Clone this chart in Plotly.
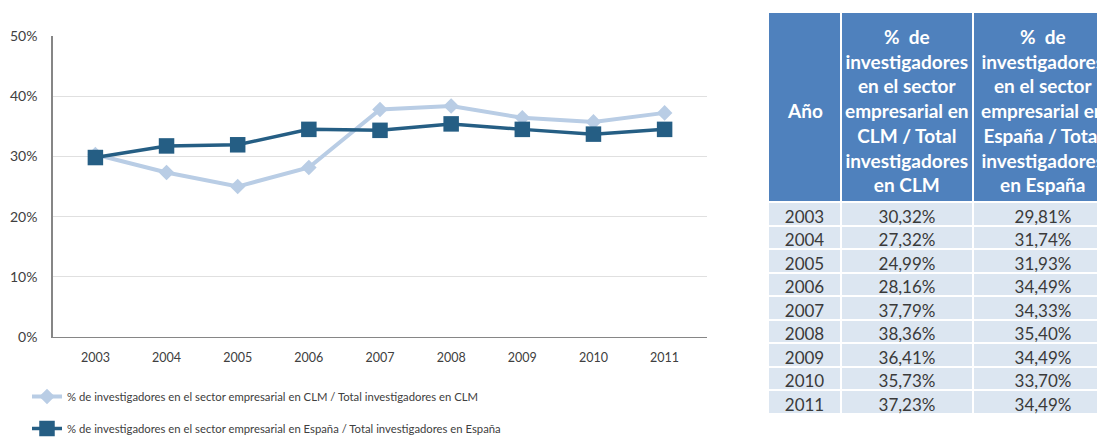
import plotly.graph_objects as go

years = ["2003", "2004", "2005", "2006", "2007", "2008", "2009", "2010", "2011"]
clm = [30.32, 27.32, 24.99, 28.16, 37.79, 38.36, 36.41, 35.73, 37.23]
esp = [29.81, 31.74, 31.93, 34.49, 34.33, 35.40, 34.49, 33.70, 34.49]
name_clm = "% de investigadores en el sector empresarial en CLM / Total investigadores en CLM"
name_esp = "% de investigadores en el sector empresarial en España / Total investigadores en España"
header_lines = [
    ["Año"],
    ["%  de", "investigadores", "en el sector", "empresarial en", "CLM / Total", "investigadores", "en CLM"],
    ["%  de", "investigadores", "en el sector", "empresarial en", "España / Total", "investigadores", "en España"],
]
tick_vals = [0, 0.1, 0.2, 0.3, 0.4, 0.5]

# the page body has an 8px margin, so figure coords = reference px - 8
W, H = 1105, 437
FONT = "Lato, Open Sans, sans-serif"
col_w = [73, 132, 140]
tbl_left, tbl_top, hdr_h = 760, 4, 190

def fmt(v):
    return f"{v:.2f}%".replace(".", ",")

fig = go.Figure()
fig.add_trace(go.Scatter(
    x=years, y=[v / 100 for v in clm], name=name_clm, mode="lines+markers",
    line=dict(color="#b9cde5", width=4),
    marker=dict(symbol="diamond", size=12, color="#b9cde5"),
    legendgroup="a", hoverinfo="skip",
))
fig.add_trace(go.Scatter(
    x=years, y=[v / 100 for v in esp], name=name_esp, mode="lines+markers",
    line=dict(color="#255e84", width=3.5),
    marker=dict(symbol="square", size=15.5, color="#255e84"),
    legendgroup="b", hoverinfo="skip",
))

fig.add_trace(go.Table(
    domain=dict(x=[tbl_left / W, 1.0], y=[0, (H - tbl_top) / H]),
    columnwidth=col_w,
    header=dict(
        values=["" for _ in header_lines],
        fill_color="#4f81bd",
        line=dict(color="white", width=2),
        height=hdr_h,
    ),
    cells=dict(
        values=[years, [fmt(v) for v in clm], [fmt(v) for v in esp]],
        fill_color="#dce6f1",
        line=dict(color="white", width=2),
        font=dict(family=FONT, size=17, color="#3a3a3a"),
        align="center",
        height=23.5,
    ),
))

# header labels, centred line by line over each header cell
x0 = tbl_left
for w, lines in zip(col_w, header_lines):
    fig.add_annotation(
        x=(x0 + w / 2) / W, y=(H - 102.5) / H, xref="paper", yref="paper",
        text="<br>".join(f"<b>{s}</b>" for s in lines),
        showarrow=False, align="center", xanchor="center", yanchor="middle",
        font=dict(family=FONT, size=19, color="white"),
    )
    x0 += w

fig.update_layout(
    width=W, height=H,
    margin=dict(l=0, r=0, t=0, b=0, autoexpand=False),
    paper_bgcolor="white", plot_bgcolor="white",
    showlegend=True,
    legend=dict(
        x=19 / W, xanchor="left", y=(H - 374) / H, yanchor="top",
        font=dict(family=FONT, size=11.3, color="#404040"),
        tracegroupgap=13, bgcolor="rgba(0,0,0,0)",
    ),
    xaxis=dict(
        domain=[45 / W, 699 / W], type="category", automargin=False,
        showgrid=False, showline=True, linecolor="#868686", linewidth=1,
        ticks="", tickfont=dict(family=FONT, size=12.5, color="#404040"),
        ticklabelstandoff=9, fixedrange=True,
    ),
    yaxis=dict(
        domain=[(H - 329) / H, (H - 28) / H], range=[0, 0.5], automargin=False,
        tickvals=tick_vals, tickformat=".0%",
        showgrid=True, gridcolor="#e0e0e0", gridwidth=1,
        showline=True, linecolor="#868686", linewidth=1.5,
        zeroline=False, ticks="",
        tickfont=dict(family=FONT, size=14, color="#404040"),
        ticklabelstandoff=11, fixedrange=True,
    ),
)

fig.write_html("out.html")
